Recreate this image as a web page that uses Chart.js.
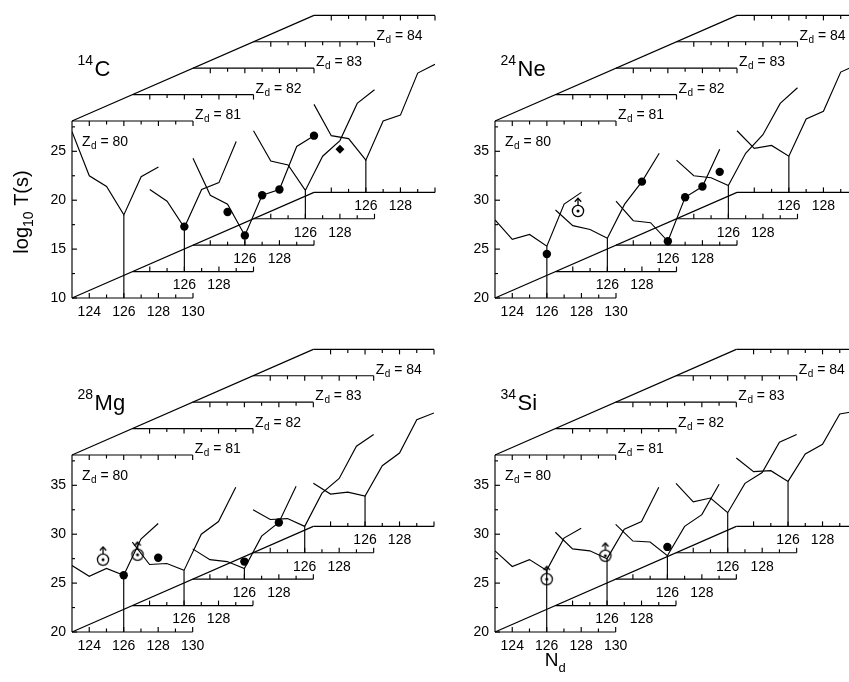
<!DOCTYPE html>
<html><head><meta charset="utf-8">
<script src="https://cdn.jsdelivr.net/npm/chart.js@4.4.1/dist/chart.umd.min.js"></script>
<style>
html,body{margin:0;padding:0;background:#fff;width:849px;height:682px;overflow:hidden;position:relative}
canvas{position:absolute}
</style></head>
<body>
<canvas id="p1" width="440" height="334" style="left:0;top:0"></canvas>
<canvas id="p2" width="440" height="334" style="left:423px;top:0"></canvas>
<canvas id="p3" width="440" height="348" style="left:0;top:334px"></canvas>
<canvas id="p4" width="440" height="348" style="left:423px;top:334px"></canvas>
<script>
// ---------- data ----------
const N_D = [123, 124, 125, 126, 127, 128, 129, 130];
const Z_D = [80, 81, 82, 83, 84];
const X_TICKS = [124, 126, 128, 130];
const SUB_X_TICKS = [126, 128];
const Y_TICKS_C14 = [10, 15, 20, 25];
const Y_TICKS = [20, 25, 30, 35];

// 14C : log10 T(s) vs N_d for each Z_d
const c14_z80 = [27.0, 22.5, 21.4, 18.5, 22.4, 23.4, null, null];
const c14_z81 = [null, 18.4, 17.2, 14.5, 18.4, 19.1, 23.3, null];
const c14_z82 = [18.9, 15.1, 14.2, 11.0, 15.1, 15.7, 20.1, 21.2];
const c14_z83 = [19.0, 15.9, 15.5, 12.9, 16.4, 18.0, 21.8, 23.2];
const c14_z84 = [19.0, 15.8, 15.5, 13.3, 17.3, 17.9, 22.2, 23.1];
const c14_exp_z = [81, 82, 82, 82, 82, 82, 83];
const c14_exp_n = [126, 125, 126, 127, 128, 130, 128];
const c14_exp_t = [14.6, 13.4, 11.0, 15.1, 15.7, 21.2, 17.1];
const c14_exp_kind = ['dot', 'dot', 'dot', 'dot', 'dot', 'dot', 'diamond'];

// 24Ne
const ne24_z80 = [28.0, 26.0, 26.5, 25.3, 29.6, 30.8, null, null];
const ne24_z81 = [26.3, 24.7, 24.3, 23.4, 26.9, 29.2, 32.1, null];
const ne24_z82 = [24.5, 22.5, 22.3, 20.4, 24.9, 26.0, 29.8, null];
const ne24_z83 = [26.0, 24.4, 24.2, 23.4, 26.7, 28.6, 31.8, 33.4];
const ne24_z84 = [26.3, 24.5, 24.8, 23.7, 27.5, 28.3, 32.3, 33.1];
const ne24_exp_z = [80, 80, 81, 82, 82, 82, 82];
const ne24_exp_n = [126, 127.8, 128, 126, 127, 128, 129];
const ne24_exp_t = [24.5, 28.9, 29.2, 20.4, 24.9, 26.0, 27.5];
const ne24_exp_kind = ['dot', 'limit', 'dot', 'dot', 'dot', 'dot', 'dot'];

// 28Mg
const mg28_z80 = [26.8, 25.7, 26.5, 25.8, 29.5, 31.1, null, null];
const mg28_z81 = [26.5, 24.2, 24.3, 23.6, 27.3, 28.6, 32.1, null];
const mg28_z82 = [23.1, 22.0, 21.8, 21.1, 24.4, 25.8, 29.5, null];
const mg28_z83 = [24.4, 23.4, 23.5, 22.7, 26.1, 27.6, 30.9, 32.1];
const mg28_z84 = [24.4, 23.3, 23.5, 23.1, 26.2, 27.5, 30.9, 31.6];
const mg28_exp_z = [80, 80, 80, 80, 82, 82];
const mg28_exp_n = [124.8, 126.8, 126, 128, 126, 128];
const mg28_exp_t = [27.4, 27.9, 25.8, 27.6, 21.8, 25.8];
const mg28_exp_kind = ['limit', 'limit', 'dot', 'dot', 'dot', 'dot'];

// 34Si
const si34_z80 = [28.3, 26.7, 27.4, 26.3, 29.6, 30.6, null, null];
const si34_z81 = [27.5, 25.8, 25.6, 24.8, 27.8, 28.6, 32.1, null];
const si34_z82 = [25.6, 23.9, 23.8, 22.4, 25.4, 26.6, 29.7, null];
const si34_z83 = [27.1, 25.2, 25.6, 24.1, 27.1, 28.2, 31.3, 32.1];
const si34_z84 = [27.0, 25.6, 25.7, 24.6, 27.4, 28.4, 31.5, 31.8];
const si34_exp_z = [80, 81, 82];
const si34_exp_n = [126, 125.9, 126];
const si34_exp_t = [25.4, 25.1, 23.3];
const si34_exp_kind = ['limit', 'limit', 'dot'];

// ---------- layout (pseudo-3D offsets, in axis units) ----------
const DX = 3.5, DY = 2.7, FRAME_H = 18.1;
const N_MIN = 123, N_MAX = 130;
const LW = 1.15;
const FONT = '"Liberation Sans", Arial, Helvetica, sans-serif';
Chart.defaults.font.family = FONT;
Chart.defaults.color = '#000';

function makeLimitMarker() {
  const c = document.createElement('canvas');
  c.width = 28; c.height = 28;
  const g = c.getContext('2d');
  const cx = 14, cy = 14;
  g.strokeStyle = '#000'; g.fillStyle = '#000'; g.lineWidth = 1.3;
  g.beginPath(); g.arc(cx, cy, 5.6, 0, Math.PI * 2); g.stroke();
  g.beginPath(); g.arc(cx, cy, 1.5, 0, Math.PI * 2); g.fill();
  g.beginPath(); g.moveTo(cx, cy - 5.6); g.lineTo(cx, cy - 12.5); g.stroke();
  g.beginPath(); g.moveTo(cx - 3.2, cy - 9.3); g.lineTo(cx, cy - 12.8); g.lineTo(cx + 3.2, cy - 9.3); g.stroke();
  return c;
}
const LIMIT = makeLimitMarker();

function drawZ(ctx, x, y, z) {
  ctx.textAlign = 'left'; ctx.textBaseline = 'alphabetic';
  ctx.font = '14px ' + FONT; ctx.fillText('Z', x, y);
  let w = ctx.measureText('Z').width + 0.5;
  ctx.font = '10px ' + FONT; ctx.fillText('d', x + w, y + 3);
  w += ctx.measureText('d').width;
  ctx.font = '14px ' + FONT; ctx.fillText(' = ' + z, x + w, y);
}

const framePlugin = {
  id: 'frames',
  beforeDatasetsDraw(chart, args, o) {
    const ctx = chart.ctx, xs = chart.scales.x, ys = chart.scales.y;
    const P = (n, t) => [xs.getPixelForValue(n), ys.getPixelForValue(t)];
    const t0 = o.tmin, last = Z_D.length - 1;
    ctx.save();
    ctx.strokeStyle = '#000'; ctx.fillStyle = '#000'; ctx.lineWidth = LW;
    const seg = (a, b) => { ctx.beginPath(); ctx.moveTo(a[0], a[1]); ctx.lineTo(b[0], b[1]); ctx.stroke(); };
    seg(P(N_MIN, t0), P(N_MIN + DX * last, t0 + DY * last));
    seg(P(N_MIN, t0 + FRAME_H), P(N_MIN + DX * last, t0 + FRAME_H + DY * last));
    seg(P(N_MIN, t0), P(N_MIN, t0 + FRAME_H));
    for (let i = 0; t0 + 2.5 * i < t0 + FRAME_H; i++) {
      const p = P(N_MIN, t0 + 2.5 * i);
      seg(p, [p[0] + (i % 2 === 0 ? 5 : 3), p[1]]);
    }
    Z_D.forEach((z, k) => {
      const ox = DX * k, oy = DY * k;
      seg(P(N_MIN + ox, t0 + oy), P(N_MAX + ox, t0 + oy));
      seg(P(N_MIN + ox, t0 + FRAME_H + oy), P(N_MAX + ox, t0 + FRAME_H + oy));
      for (let n = N_MIN + 1; n <= N_MAX; n++) {
        const len = n % 2 === 0 ? 5 : 3.5;
        const b = P(n + ox, t0 + oy); seg(b, [b[0], b[1] - len]);
        const t = P(n + ox, t0 + FRAME_H + oy); seg(t, [t[0], t[1] + len]);
      }
      if (k > 0) {
        ctx.font = '14px ' + FONT; ctx.textAlign = 'center'; ctx.textBaseline = 'top';
        SUB_X_TICKS.forEach(n => { const p = P(n + ox, t0 + oy); ctx.fillText(String(n), p[0], p[1] + 7); });
      }
      let lx, ly;
      if (k === 0) { const p = P(N_MIN, t0 + FRAME_H); lx = p[0] + 10; ly = p[1] + 25; }
      else { const p = P(N_MAX + DX * (k - 1), t0 + FRAME_H + DY * (k - 1)); lx = p[0] + 2; ly = p[1] - 2; }
      drawZ(ctx, lx, ly, z);
    });
    // nucleus title
    const tp = P(N_MIN, t0 + FRAME_H);
    ctx.textAlign = 'left'; ctx.textBaseline = 'alphabetic';
    ctx.font = '14px ' + FONT; ctx.fillText(o.mass, tp[0] + 5.5, tp[1] - 55.5);
    const mw = ctx.measureText(o.mass).width;
    ctx.font = '22px ' + FONT; ctx.fillText(o.symbol, tp[0] + 5.5 + mw + 1.5, tp[1] - 44.5);
    if (o.yTitle) {
      ctx.save();
      ctx.translate(28, 212); ctx.rotate(-Math.PI / 2);
      ctx.font = '20px ' + FONT; const w1 = ctx.measureText('log').width, w3 = ctx.measureText(' T(s)').width;
      ctx.font = '14px ' + FONT; const w2 = ctx.measureText('10').width;
      let sx = -(w1 + w2 + w3) / 2;
      ctx.font = '20px ' + FONT; ctx.fillText('log', sx, 0); sx += w1;
      ctx.font = '14px ' + FONT; ctx.fillText('10', sx, 5); sx += w2;
      ctx.font = '20px ' + FONT; ctx.fillText(' T(s)', sx, 0);
      ctx.restore();
    }
    if (o.xTitle) {
      const c = P((N_MIN + N_MAX) / 2, t0);
      ctx.font = '19px ' + FONT; const wn = ctx.measureText('N').width;
      ctx.font = '13px ' + FONT; const wd = ctx.measureText('d').width;
      const sx = c[0] - (wn + wd) / 2;
      ctx.font = '19px ' + FONT; ctx.fillText('N', sx, c[1] + 34);
      ctx.font = '13px ' + FONT; ctx.fillText('d', sx + wn, c[1] + 40);
    }
    ctx.restore();
  }
};

function buildDatasets(theory, ez, en, et, ek, t0) {
  const ds = [];
  const i126 = N_D.indexOf(126);
  theory.forEach((arr, k) => {
    const pts = [];
    N_D.forEach((n, i) => { if (arr[i] != null) pts.push({ x: n + DX * k, y: arr[i] + DY * k }); });
    ds.push({ data: pts, borderColor: '#000', borderWidth: LW, pointRadius: 0, fill: false, tension: 0 });
    ds.push({ data: [{ x: 126 + DX * k, y: arr[i126] + DY * k }, { x: 126 + DX * k, y: t0 + DY * k }],
      borderColor: '#000', borderWidth: LW, pointRadius: 0, fill: false });
  });
  const pts = ez.map((z, i) => { const k = Z_D.indexOf(z); return { x: en[i] + DX * k, y: et[i] + DY * k }; });
  ds.push({
    data: pts, showLine: false,
    pointStyle: ek.map(s => s === 'limit' ? LIMIT : (s === 'diamond' ? 'rectRot' : 'circle')),
    pointRadius: ek.map(s => s === 'diamond' ? 4.5 : (s === 'limit' ? 6 : 4.2)),
    backgroundColor: '#000', borderColor: '#000', borderWidth: 0
  });
  return ds;
}

function makePanel(id, theory, ez, en, et, ek, t0, yTicks, mass, symbol, yTitle, xTitle, padBottom) {
  new Chart(document.getElementById(id), {
    type: 'line',
    data: { datasets: buildDatasets(theory, ez, en, et, ek, t0) },
    options: {
      responsive: false, animation: false, devicePixelRatio: 1, events: [],
      layout: { padding: { top: 8, right: 5, bottom: padBottom, left: 0 } },
      plugins: { legend: { display: false }, tooltip: { enabled: false },
        frames: { tmin: t0, mass: mass, symbol: symbol, yTitle: yTitle, xTitle: xTitle } },
      scales: {
        x: {
          type: 'linear', min: N_MIN, max: N_MIN + 21,
          afterBuildTicks: s => { s.ticks = X_TICKS.map(v => ({ value: v })); },
          afterFit: s => { s.height = 30; },
          grid: { display: false, drawTicks: false }, border: { display: false },
          ticks: { font: { size: 14 }, color: '#000', padding: 6, maxRotation: 0, autoSkip: false }
        },
        y: {
          type: 'linear', min: t0, max: t0 + 29,
          afterBuildTicks: s => { s.ticks = yTicks.map(v => ({ value: v })); },
          afterFit: s => { s.width = 72; },
          grid: { display: false, drawTicks: false }, border: { display: false },
          ticks: { font: { size: 14 }, color: '#000', padding: 6, autoSkip: false }
        }
      }
    },
    plugins: [framePlugin]
  });
}

makePanel('p1', [c14_z80, c14_z81, c14_z82, c14_z83, c14_z84], c14_exp_z, c14_exp_n, c14_exp_t, c14_exp_kind, 10, Y_TICKS_C14, '14', 'C', true, false, 6);
makePanel('p2', [ne24_z80, ne24_z81, ne24_z82, ne24_z83, ne24_z84], ne24_exp_z, ne24_exp_n, ne24_exp_t, ne24_exp_kind, 20, Y_TICKS, '24', 'Ne', false, false, 6);
makePanel('p3', [mg28_z80, mg28_z81, mg28_z82, mg28_z83, mg28_z84], mg28_exp_z, mg28_exp_n, mg28_exp_t, mg28_exp_kind, 20, Y_TICKS, '28', 'Mg', false, false, 20);
makePanel('p4', [si34_z80, si34_z81, si34_z82, si34_z83, si34_z84], si34_exp_z, si34_exp_n, si34_exp_t, si34_exp_kind, 20, Y_TICKS, '34', 'Si', false, true, 20);
</script>
</body></html>
